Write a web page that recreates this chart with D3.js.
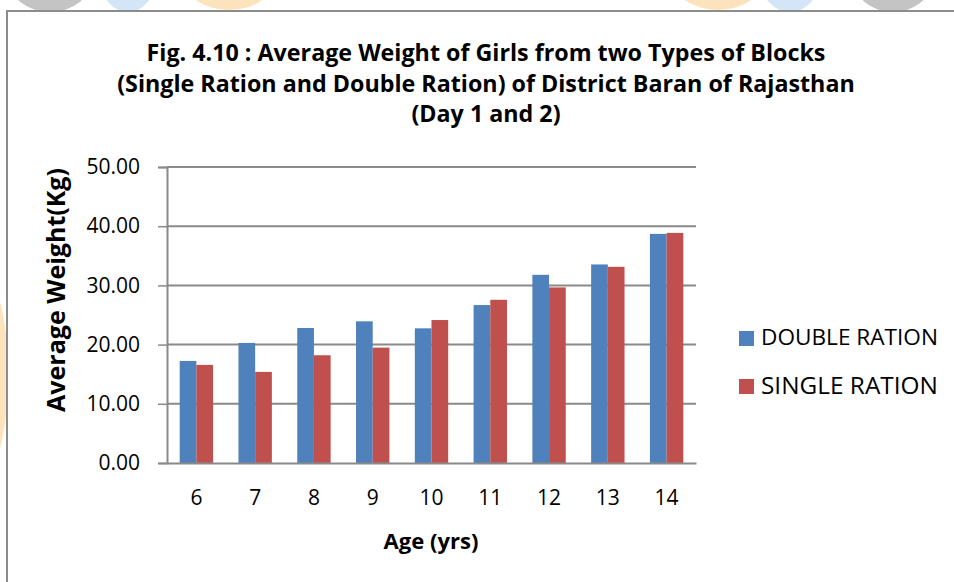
<!DOCTYPE html>
<html>
<head>
<meta charset="utf-8">
<script src="https://cdn.jsdelivr.net/npm/d3@7"></script>
<style>
  html, body { margin: 0; padding: 0; background: #fff; }
  svg { display: block; font-family: "Open Sans", "Noto Sans", sans-serif; }
</style>
</head>
<body>
<svg id="chart" width="954" height="582"></svg>
<script>
// chart data
const ages = ["6", "7", "8", "9", "10", "11", "12", "13", "14"];
const seriesNames = ["DOUBLE RATION", "SINGLE RATION"];
const doubleRation = [17.24, 20.28, 22.80, 23.93, 22.75, 26.68, 31.79, 33.54, 38.70];
const singleRation = [16.57, 15.39, 18.20, 19.49, 24.15, 27.57, 29.66, 33.14, 38.87];
const yTicks = [0, 10, 20, 30, 40, 50];
const titleLines = [
   "Fig. 4.10 : Average Weight of Girls from two Types of Blocks",
   "(Single Ration and Double Ration) of District Baran of Rajasthan",
   "(Day 1 and 2)"
];

const colors = ["#4f81bd", "#c0504d"];
const svg = d3.select("#chart");

// faint watermark shapes behind the chart frame
const wm = svg.append("g");
[[50, -22, 42, 34, "#c4c4c4"], [128, -22, 28, 34, "#d3e5f7"], [229, -26, 48, 36, "#fde3bd"],
 [718, -26, 48, 36, "#fde3bd"], [790, -22, 30, 34, "#d3e5f7"], [893, -22, 40, 34, "#c4c4c4"],
 [-14, 375, 22, 95, "#fde3bd"]].forEach(d => {
   wm.append("ellipse").attr("cx", d[0]).attr("cy", d[1]).attr("rx", d[2]).attr("ry", d[3])
     .attr("fill", d[4]);
});

svg.append("rect").attr("x", 7).attr("y", 11).attr("width", 960).attr("height", 590).attr("fill", "#fff");
svg.append("path").attr("d", "M7,590V11H960").attr("fill", "none")
   .attr("stroke", "#8c8c8c").attr("stroke-width", 2);

// helper: shrink / grow font to match a target width
function fit(sel, target, base) {
   sel.attr("font-size", base);
   const w = sel.node().getComputedTextLength();
   sel.attr("font-size", base * target / w);
}

// title
const titleY = [55, 86, 116];
const t2 = svg.append("text").attr("x", 486).attr("y", titleY[1]).attr("text-anchor", "middle")
   .attr("font-weight", "bold").attr("dominant-baseline", "middle").text(titleLines[1]);
fit(t2, 738, 20);
const tSize = t2.attr("font-size");
[0, 2].forEach(i => {
   svg.append("text").attr("x", 486).attr("y", titleY[i]).attr("text-anchor", "middle")
      .attr("font-weight", "bold").attr("dominant-baseline", "middle")
      .attr("font-size", tSize).text(titleLines[i]);
});

// scales
const x0 = d3.scaleBand().domain(ages).range([167, 696]).paddingInner(0.432).paddingOuter(0.216);
const x1 = d3.scaleBand().domain(seriesNames).range([0, x0.bandwidth()]);
const y = d3.scaleLinear().domain([0, 50]).range([463, 167]);

// gridlines
svg.append("g").selectAll("line").data(yTicks.filter(d => d > 0)).enter().append("line")
   .attr("x1", 167).attr("x2", 696)
   .attr("y1", d => y(d)).attr("y2", d => y(d))
   .attr("stroke", "#8a8a8a").attr("stroke-width", 2);

// y axis
const yAxis = svg.append("g").attr("transform", "translate(167,0)")
   .call(d3.axisLeft(y).tickValues(yTicks).tickSize(9).tickPadding(18).tickFormat(d3.format(".2f")));
yAxis.select(".domain").attr("stroke", "#8a8a8a").attr("stroke-width", 2);
yAxis.selectAll(".tick line").attr("stroke", "#8a8a8a").attr("stroke-width", 1.5);
yAxis.selectAll(".tick text").attr("font-size", 21).attr("fill", "#000")
   .attr("font-family", "'Open Sans', sans-serif");

// bars
const groups = svg.append("g").selectAll("g").data(ages).enter().append("g")
   .attr("transform", d => "translate(" + x0(d) + ",0)");
groups.selectAll("rect")
   .data((d, i) => [doubleRation[i], singleRation[i]].map((v, k) => ({ key: seriesNames[k], value: v, k: k })))
   .enter().append("rect")
   .attr("x", d => x1(d.key))
   .attr("y", d => y(d.value))
   .attr("width", x1.bandwidth())
   .attr("height", d => y(0) - y(d.value))
   .attr("fill", d => colors[d.k]);

// x axis
const xAxis = svg.append("g").attr("transform", "translate(0,463)")
   .call(d3.axisBottom(x0).tickSize(0).tickPadding(27));
xAxis.select(".domain").attr("stroke", "#8a8a8a").attr("stroke-width", 2);
xAxis.selectAll(".tick text").attr("font-size", 21).attr("fill", "#000")
   .attr("font-family", "'Open Sans', sans-serif");

// axis titles
const xt = svg.append("text").attr("x", 431).attr("y", 543).attr("text-anchor", "middle")
   .attr("dominant-baseline", "middle").attr("font-weight", "bold").text("Age (yrs)");
fit(xt, 95, 20);
const yt = svg.append("text").attr("transform", "translate(58,290) rotate(-90)")
   .attr("text-anchor", "middle").attr("dominant-baseline", "middle")
   .attr("font-weight", "bold").text("Average Weight(Kg)");
fit(yt, 244, 20);

// legend
const legend = svg.append("g").selectAll("g").data(seriesNames).enter().append("g")
   .attr("transform", (d, i) => "translate(739," + (331 + i * 48) + ")");
legend.append("rect").attr("width", 15).attr("height", 15).attr("fill", (d, i) => colors[i]);
legend.append("text").attr("x", 22).attr("y", 8).attr("dominant-baseline", "middle")
   .attr("font-size", 21).text(d => d)
   .each(function () { fit(d3.select(this), 177, 21); });
</script>
</body>
</html>
